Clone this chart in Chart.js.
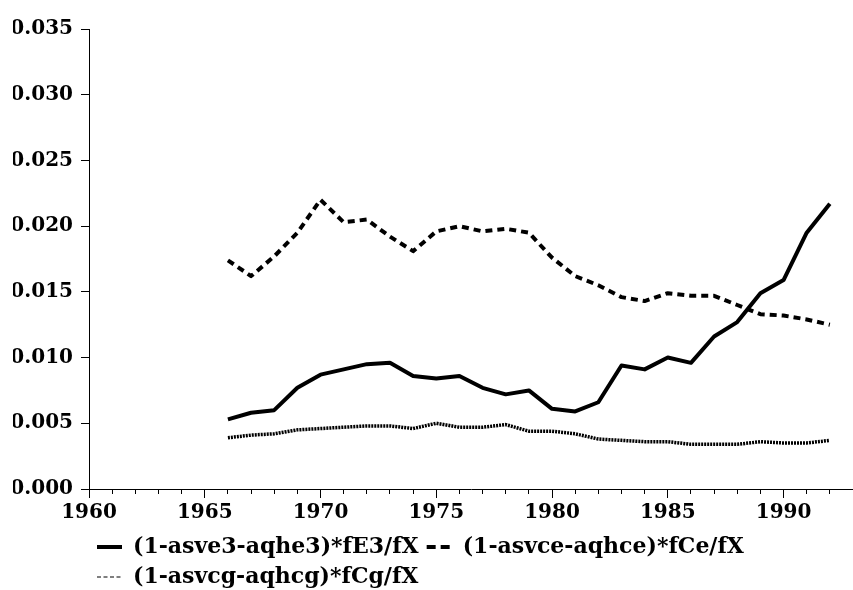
<!DOCTYPE html>
<html>
<head>
<meta charset="utf-8">
<script src="https://cdn.jsdelivr.net/npm/chart.js@4.4.1/dist/chart.umd.min.js"></script>
<style>
  html, body { margin: 0; padding: 0; background: #fff; }
</style>
</head>
<body>
<canvas id="chart" width="853" height="590"></canvas>
<script>
// values
const years = [1966, 1967, 1968, 1969, 1970, 1971, 1972, 1973, 1974, 1975, 1976, 1977, 1978,
  1979, 1980, 1981, 1982, 1983, 1984, 1985, 1986, 1987, 1988, 1989, 1990, 1991, 1992];
const fE3 = [0.0053, 0.0058, 0.0060, 0.0077, 0.0087, 0.0091, 0.0095, 0.0096, 0.0086, 0.0084,
  0.0086, 0.0077, 0.0072, 0.0075, 0.0061, 0.0059, 0.0066, 0.0094, 0.0091, 0.0100, 0.0096,
  0.0116, 0.0127, 0.0149, 0.0159, 0.0195, 0.0217];
const fCe = [0.0174, 0.0162, 0.0177, 0.0195, 0.0220, 0.0203, 0.0205, 0.0192, 0.0181, 0.0196,
  0.0200, 0.0196, 0.0198, 0.0195, 0.0176, 0.0162, 0.0155, 0.0146, 0.0143, 0.0149, 0.0147,
  0.0147, 0.0140, 0.0133, 0.0132, 0.0129, 0.0125];
const fCg = [0.0039, 0.0041, 0.0042, 0.0045, 0.0046, 0.0047, 0.0048, 0.0048, 0.0046, 0.0050,
  0.0047, 0.0047, 0.0049, 0.0044, 0.0044, 0.0042, 0.0038, 0.0037, 0.0036, 0.0036, 0.0034,
  0.0034, 0.0034, 0.0036, 0.0035, 0.0035, 0.0037];
const seriesNames = ['(1-asve3-aqhe3)*fE3/fX', '(1-asvce-aqhce)*fCe/fX', '(1-asvcg-aqhcg)*fCg/fX'];
const xTickLabels = [1960, 1965, 1970, 1975, 1980, 1985, 1990];
const yTickLabels = [0, 0.005, 0.010, 0.015, 0.020, 0.025, 0.030, 0.035];

const xMin = 1960, xMax = 1993;
const minorTicks = [];
for (let yr = xMin; yr < xMax; yr++) minorTicks.push({ value: yr });

const pts = vals => years.map((yr, i) => ({ x: yr, y: vals[i] }));

const FONT = '"DejaVu Serif", serif';
const tickFont = { family: FONT, size: 20, weight: 'bold' };

// legend samples are drawn a bit differently from the lines
const legendStyles = [
  { lineWidth: 4, lineDash: [] },
  { lineWidth: 4, lineDash: [9, 5] },
  { lineWidth: 1.2, lineDash: [4, 2.5] },
];

Chart.defaults.font.family = FONT;
Chart.defaults.font.size = 20;
Chart.defaults.font.weight = 'bold';
Chart.defaults.color = '#000';

new Chart(document.getElementById('chart'), {
  type: 'line',
  data: {
    datasets: [
      { label: seriesNames[0], data: pts(fE3), borderColor: '#000', borderWidth: 4 },
      { label: seriesNames[1], data: pts(fCe), borderColor: '#000', borderWidth: 4, borderDash: [7, 5] },
      { label: seriesNames[2], data: pts(fCg), borderColor: '#000', borderWidth: 3.5, borderDash: [2, 1] },
    ],
  },
  options: {
    responsive: false,
    animation: false,
    devicePixelRatio: 1,
    elements: {
      point: { radius: 0 },
      line: { tension: 0, fill: false, borderJoinStyle: 'round' },
    },
    layout: { padding: { left: 13, right: 0, top: 29, bottom: -8 } },
    scales: {
      x: {
        type: 'linear',
        position: 'bottom',
        weight: 1,
        min: xMin,
        max: xMax,
        afterBuildTicks: s => { s.ticks = xTickLabels.map(v => ({ value: v })); },
        ticks: { padding: 3, font: tickFont, callback: v => String(v) },
        grid: { drawOnChartArea: false, tickLength: 9, tickColor: '#000' },
        border: { color: '#000', width: 1 },
      },
      xMinor: {
        type: 'linear',
        position: 'bottom',
        weight: 0,
        min: xMin,
        max: xMax,
        afterBuildTicks: s => { s.ticks = minorTicks; },
        afterFit: s => { s.height = 0; },
        ticks: { display: false },
        grid: { drawOnChartArea: false, tickLength: 5, tickColor: '#000' },
        border: { display: false },
      },
      y: {
        min: 0,
        max: 0.035,
        afterBuildTicks: s => { s.ticks = yTickLabels.map(v => ({ value: v })); },
        afterFit: s => { s.width = 76; },
        ticks: { padding: 8, font: tickFont, callback: v => v.toFixed(3) },
        grid: { drawOnChartArea: false, tickLength: 8, tickColor: '#000' },
        border: { color: '#000', width: 1 },
      },
    },
    plugins: {
      tooltip: { enabled: false },
      legend: {
        position: 'bottom',
        align: 'start',
        fullSize: false,
        labels: {
          usePointStyle: true,
          pointStyle: 'line',
          pointStyleWidth: 25,
          padding: 8,
          font: { family: FONT, size: 22, weight: 'bold' },
          generateLabels: chart =>
            Chart.defaults.plugins.legend.labels.generateLabels(chart)
              .map((item, i) => Object.assign(item, legendStyles[i])),
        },
      },
    },
  },
});
</script>
</body>
</html>
